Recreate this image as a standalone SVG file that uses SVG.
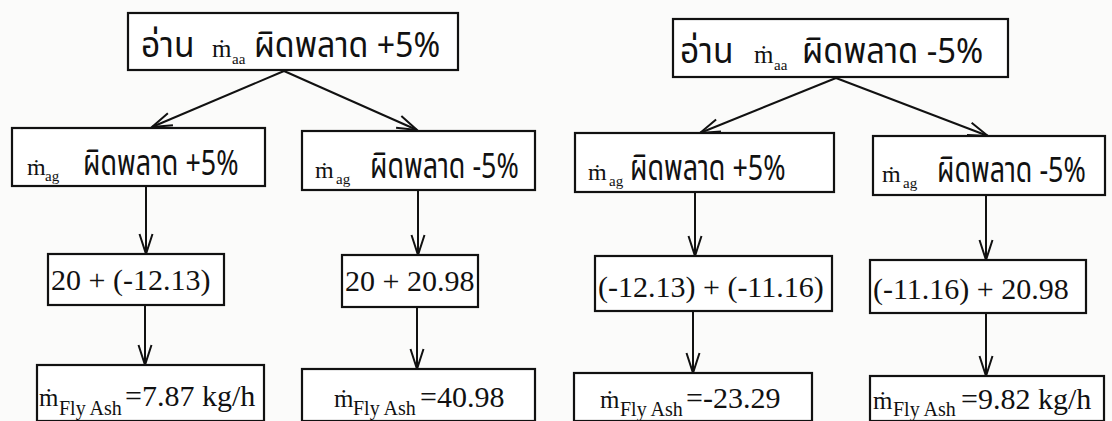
<svg xmlns="http://www.w3.org/2000/svg" width="1112" height="421" viewBox="0 0 1112 421">
<style>
.box{fill:#ffffff;stroke:#111;stroke-width:2.2}
.ln{stroke:#111;stroke-width:2;fill:none}
.th{font-family:"Noto Sans Thai","Noto Sans Thai UI","Noto Sans","DejaVu Sans",sans-serif;font-size:28px;fill:#111}
.tm{font-family:"Liberation Serif","Times New Roman",serif;fill:#111}
.num{font-family:"Liberation Serif","Times New Roman",serif;font-size:30px;fill:#111}
</style>
<defs>
<marker id="ah" markerUnits="userSpaceOnUse" markerWidth="30" markerHeight="20" viewBox="-22 -10 24 20" refX="0" refY="0" orient="auto">
<path d="M-20,-6.5 L0,0 L-20,6.5" fill="none" stroke="#111" stroke-width="2"/>
</marker>
</defs>
<rect width="1112" height="421" fill="#fbfbfa"/>
<g id="connectors">
<line class="ln" x1="284" y1="71" x2="152" y2="127" marker-end="url(#ah)"/>
<line class="ln" x1="284" y1="71" x2="417" y2="130" marker-end="url(#ah)"/>
<line class="ln" x1="146" y1="186" x2="146" y2="254" marker-end="url(#ah)"/>
<line class="ln" x1="418" y1="190" x2="418" y2="255" marker-end="url(#ah)"/>
<line class="ln" x1="145" y1="305" x2="145" y2="365" marker-end="url(#ah)"/>
<line class="ln" x1="417" y1="307" x2="417" y2="369" marker-end="url(#ah)"/>
<line class="ln" x1="836" y1="78" x2="700" y2="133" marker-end="url(#ah)"/>
<line class="ln" x1="836" y1="78" x2="988" y2="136" marker-end="url(#ah)"/>
<line class="ln" x1="695" y1="192" x2="695" y2="256" marker-end="url(#ah)"/>
<line class="ln" x1="986" y1="195" x2="986" y2="260" marker-end="url(#ah)"/>
<line class="ln" x1="693" y1="311" x2="693" y2="373" marker-end="url(#ah)"/>
<line class="ln" x1="986" y1="313" x2="986" y2="376" marker-end="url(#ah)"/>
</g>
<g id="nodeA">
<rect class="box" x="128" y="13" width="330" height="57"/>
<text class="th" transform="translate(141,57) scale(1.2,1.25)">อ่าน</text>
<text class="tm" x="212" y="57" font-size="25">ṁ</text>
<text class="tm" x="232" y="64" font-size="15">aa</text>
<text class="th" transform="translate(254,57) scale(1.15,1.25)">ผิดพลาด +5%</text>
</g>
<g id="nodeB1">
<rect class="box" x="12" y="128" width="253" height="58"/>
<text class="tm" x="27" y="175" font-size="24">ṁ</text>
<text class="tm" x="45" y="181" font-size="15">ag</text>
<text class="th" transform="translate(83,175) scale(0.96,1.25)">ผิดพลาด +5%</text>
</g>
<g id="nodeB2">
<rect class="box" x="302" y="131" width="233" height="59"/>
<text class="tm" x="315" y="178" font-size="24">ṁ</text>
<text class="tm" x="336" y="184" font-size="15">ag</text>
<text class="th" transform="translate(370,178) scale(0.96,1.25)">ผิดพลาด -5%</text>
</g>
<g id="nodeE1">
<rect class="box" x="48" y="254" width="176" height="51"/>
<text class="num" x="51" y="290">20 + (-12.13)</text>
</g>
<g id="nodeE2">
<rect class="box" x="342" y="255" width="136" height="52"/>
<text class="num" x="345" y="291">20 + 20.98</text>
</g>
<g id="nodeF1">
<rect class="box" x="37" y="365" width="227" height="56"/>
<text class="tm" x="39" y="406" font-size="25">ṁ</text>
<text class="tm" x="59" y="415" font-size="20">Fly Ash</text>
<text class="num" x="125" y="406">=7.87 kg/h</text>
</g>
<g id="nodeF2">
<rect class="box" x="302" y="369" width="233" height="52"/>
<text class="tm" x="334" y="407" font-size="25">ṁ</text>
<text class="tm" x="353" y="415" font-size="20">Fly Ash</text>
<text class="num" x="420" y="407">=40.98</text>
</g>
<g id="nodeD">
<rect class="box" x="673" y="19" width="335" height="58"/>
<text class="th" transform="translate(680,63) scale(1.2,1.25)">อ่าน</text>
<text class="tm" x="754" y="63" font-size="25">ṁ</text>
<text class="tm" x="774" y="70" font-size="15">aa</text>
<text class="th" transform="translate(802,63) scale(1.17,1.25)">ผิดพลาด -5%</text>
</g>
<g id="nodeC1">
<rect class="box" x="575" y="133" width="259" height="59"/>
<text class="tm" x="588" y="180" font-size="24">ṁ</text>
<text class="tm" x="609" y="186" font-size="15">ag</text>
<text class="th" transform="translate(630,180) scale(0.96,1.25)">ผิดพลาด +5%</text>
</g>
<g id="nodeC2">
<rect class="box" x="873" y="136" width="232" height="59"/>
<text class="tm" x="882" y="182" font-size="24">ṁ</text>
<text class="tm" x="903" y="188" font-size="15">ag</text>
<text class="th" transform="translate(937,182) scale(0.96,1.25)">ผิดพลาด -5%</text>
</g>
<g id="nodeG1">
<rect class="box" x="595" y="256" width="237" height="55"/>
<text class="num" x="598" y="297">(-12.13) + (-11.16)</text>
</g>
<g id="nodeG2">
<rect class="box" x="870" y="260" width="216" height="53"/>
<text class="num" x="873" y="299">(-11.16) + 20.98</text>
</g>
<g id="nodeH1">
<rect class="box" x="574" y="373" width="238" height="48"/>
<text class="tm" x="600" y="408" font-size="25">ṁ</text>
<text class="tm" x="620" y="416" font-size="20">Fly Ash</text>
<text class="num" x="686" y="408">=-23.29</text>
</g>
<g id="nodeH2">
<rect class="box" x="870" y="376" width="234" height="45"/>
<text class="tm" x="873" y="409" font-size="25">ṁ</text>
<text class="tm" x="893" y="416" font-size="20">Fly Ash</text>
<text class="num" x="961" y="409">=9.82 kg/h</text>
</g>
</svg>
